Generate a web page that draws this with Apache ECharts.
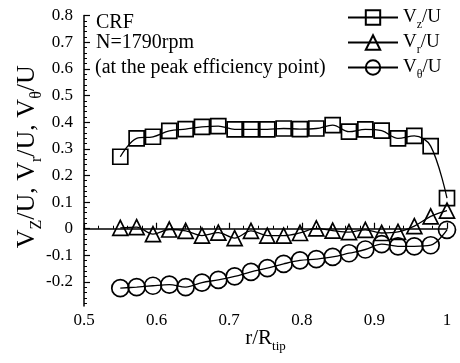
<!DOCTYPE html>
<html><head><meta charset="utf-8">
<script src="https://cdn.jsdelivr.net/npm/echarts@6/dist/echarts.min.js"></script>
<style>html,body{margin:0;padding:0;background:#fff}#c{width:460px;height:363px}</style>
</head><body><div id="c"></div>
<script>
const rValues = [0.55, 0.5725, 0.595, 0.6175, 0.64, 0.6625, 0.685, 0.7075, 0.73, 0.7525, 0.775,
  0.7975, 0.82, 0.8425, 0.865, 0.8875, 0.91, 0.9325, 0.955, 0.9775, 1.0];
const vzU = [0.270, 0.339, 0.345, 0.367, 0.374, 0.382, 0.385, 0.373, 0.373, 0.373, 0.376,
  0.374, 0.376, 0.389, 0.364, 0.373, 0.368, 0.339, 0.348, 0.310, 0.115];
const vrU = [0.003, 0.006, -0.020, -0.003, -0.008, -0.026, -0.015, -0.035, -0.008, -0.026, -0.026,
  -0.016, 0.001, -0.007, -0.013, -0.004, -0.016, -0.012, 0.010, 0.046, 0.068];
const vtU = [-0.223, -0.219, -0.214, -0.210, -0.219, -0.202, -0.192, -0.179, -0.162, -0.148, -0.132,
  -0.119, -0.114, -0.106, -0.092, -0.078, -0.058, -0.066, -0.066, -0.062, -0.004];
const yMajorTicks = [-0.2, -0.1, 0, 0.1, 0.2, 0.3, 0.4, 0.5, 0.6, 0.7, 0.8];
const yMinorTicks = [-0.28, -0.26, -0.24, -0.22, -0.18, -0.16, -0.14, -0.12, -0.08, -0.06, -0.04, -0.02,
  0.02, 0.04, 0.06, 0.08, 0.12, 0.14, 0.16, 0.18, 0.22, 0.24, 0.26, 0.28, 0.32, 0.34, 0.36, 0.38,
  0.42, 0.44, 0.46, 0.48, 0.52, 0.54, 0.56, 0.58, 0.62, 0.64, 0.66, 0.68, 0.72, 0.74, 0.76, 0.78];
const seriesNames = ['Vz/U', 'Vr/U', 'Vt/U'];
const legendLabels = ['V{s|z}/U', 'V{s|r}/U', 'V{s|θ}/U'];
const notes = ['CRF', 'N=1790rpm', '(at the peak efficiency point)'];

const FONT = 'Liberation Serif';
const chart = echarts.init(document.getElementById('c'), null, {renderer: 'canvas'});
const pair = (ys) => rValues.map((x, i) => [x, ys[i]]);
const mk = (name, data, symbol, size) => ({
  name, type: 'line', data: pair(data), smooth: 0.35,
  symbol, symbolSize: size, showSymbol: true,
  lineStyle: {color: '#000', width: 1.3},
  itemStyle: {color: 'rgba(255,255,255,0)', borderColor: '#000', borderWidth: 1.7},
  emphasis: {disabled: true}, animation: false
});
const legendRich = {s: {fontSize: 12, fontFamily: FONT, color: '#000', verticalAlign: 'bottom', lineHeight: 26}};
const mkLegend = (idx, top) => ({
  data: [seriesNames[idx]], left: 347, top, orient: 'vertical', padding: 0,
  itemWidth: 50, itemHeight: 18, itemGap: 0,
  formatter: () => legendLabels[idx],
  textStyle: {fontFamily: FONT, fontSize: 19, color: '#000', rich: legendRich}
});
chart.setOption({
  animation: false,
  backgroundColor: '#fff',
  grid: {left: 84, right: 13, top: 15.5, bottom: 57, containLabel: false, outerBoundsMode: 'none'},
  xAxis: {
    type: 'value', min: 0.5, max: 1.0, interval: 0.1,
    axisLine: {lineStyle: {color: '#000', width: 1.5}},
    axisTick: {inside: true, length: 6, lineStyle: {color: '#000', width: 1.2}},
    minorTick: {show: true, splitNumber: 5, length: 3, lineStyle: {color: '#000', width: 1}},
    splitLine: {show: false},
    axisLabel: {fontFamily: FONT, fontSize: 17, color: '#000', margin: 6,
      formatter: v => (Math.abs(v - 1) < 1e-9 ? '1' : v.toFixed(1))},
    name: 'r/R{s|tip}', nameLocation: 'middle', nameGap: 17, nameMoveOverlap: false,
    nameTextStyle: {fontFamily: FONT, fontSize: 21, color: '#000',
      rich: {s: {fontSize: 13, fontFamily: FONT, color: '#000', verticalAlign: 'bottom', lineHeight: 30}}}
  },
  yAxis: [{
    type: 'value', min: -0.29, max: 0.8,
    axisLine: {show: true, lineStyle: {color: '#000', width: 1.5}},
    axisTick: {show: true, inside: true, length: 6, customValues: yMajorTicks, lineStyle: {color: '#000', width: 1.2}},
    splitLine: {show: false},
    axisLabel: {customValues: yMajorTicks, fontFamily: FONT, fontSize: 17, color: '#000', margin: 11,
      formatter: v => (Math.abs(v) < 1e-9 ? '0' : v.toFixed(1))},
    name: 'V{s|Z}/U, V{s|r}/U, V{s|θ}/U', nameLocation: 'middle', nameGap: 39, nameRotate: 90,
    nameMoveOverlap: false,
    nameTextStyle: {fontFamily: FONT, fontSize: 26, color: '#000', padding: [0, 0, 0, 8],
      rich: {s: {fontSize: 16, fontFamily: FONT, color: '#000', verticalAlign: 'bottom', lineHeight: 36}}}
  }, {
    type: 'value', min: -0.29, max: 0.8, position: 'left',
    axisLine: {show: false},
    axisTick: {show: true, inside: true, length: 3, customValues: yMinorTicks, lineStyle: {color: '#000', width: 1}},
    axisLabel: {show: false}, splitLine: {show: false}
  }],
  legend: [mkLegend(0, 8), mkLegend(1, 33), mkLegend(2, 58)],
  graphic: [
    {type: 'text', left: 96, top: 13, style: {text: notes[0], font: '20px "Liberation Serif"', fill: '#000'}},
    {type: 'text', left: 96, top: 33, style: {text: notes[1], font: '20px "Liberation Serif"', fill: '#000'}},
    {type: 'text', left: 95, top: 58, style: {text: notes[2], font: '20px "Liberation Serif"', fill: '#000'}}
  ],
  series: [
    mk(seriesNames[0], vzU, 'rect', 15),
    mk(seriesNames[1], vrU, 'triangle', 15),
    mk(seriesNames[2], vtU, 'circle', 17)
  ]
});
</script></body></html>
